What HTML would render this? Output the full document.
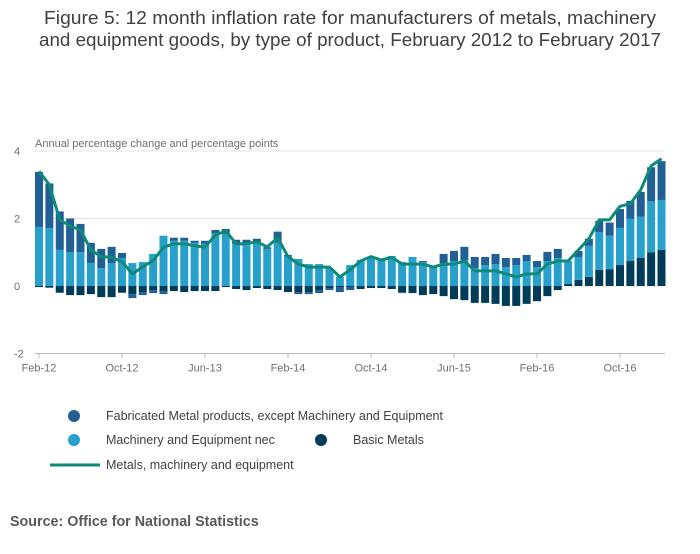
<!DOCTYPE html>
<html><head><meta charset="utf-8"><style>
body{margin:0;background:#fff;font-family:"Liberation Sans",sans-serif;}
</style></head><body>
<svg width="700" height="549" xmlns="http://www.w3.org/2000/svg" style="font-family:'Liberation Sans',sans-serif">
<text x="350" y="24" text-anchor="middle" font-size="18" fill="#414042" textLength="612" lengthAdjust="spacingAndGlyphs">Figure 5: 12 month inflation rate for manufacturers of metals, machinery</text>
<text x="350" y="46" text-anchor="middle" font-size="18" fill="#414042" textLength="622" lengthAdjust="spacingAndGlyphs">and equipment goods, by type of product, February 2012 to February 2017</text>
<text x="35" y="147" font-size="11" fill="#707070">Annual percentage change and percentage points</text>
<g id="grid"></g><g id="bars"></g><g id="line"></g><g id="axes"></g>
<g font-size="12.5" fill="#414042">
<circle cx="74" cy="416" r="6" fill="#206095"/>
<text x="106" y="420">Fabricated Metal products, except Machinery and Equipment</text>
<circle cx="74" cy="440" r="6" fill="#27a0cc"/>
<text x="106" y="444">Machinery and Equipment nec</text>
<circle cx="321" cy="440" r="6" fill="#003c57"/>
<text x="353" y="444">Basic Metals</text>
<line x1="50" y1="465" x2="100" y2="465" stroke="#0f8a76" stroke-width="3"/>
<text x="106" y="469">Metals, machinery and equipment</text>
</g>
<text x="10" y="526" font-size="14.3" font-weight="bold" fill="#595959">Source: Office for National Statistics</text>
</svg>
<script>
const fab=[1.63,1.32,1.14,1.0,0.84,0.6,0.57,0.48,0.15,-0.12,-0.09,-0.09,-0.09,0.09,0.09,0.06,0.09,0.09,0.15,0.12,0.12,0.12,0.05,0.33,0.03,-0.06,-0.06,-0.09,-0.06,-0.15,-0.09,0,0,0,0,-0.03,0,0.03,0,0.36,0.3,0.39,0.33,0.24,0.3,0.27,0.21,0.18,0.18,0.27,0.27,0,0.18,0.21,0.33,0.39,0.56,0.53,0.74,1.01,1.15];
const mach=[1.75,1.72,1.07,1.0,1.0,0.68,0.53,0.68,0.83,0.68,0.71,0.95,1.49,1.34,1.34,1.28,1.25,1.57,1.54,1.25,1.25,1.28,1.1,1.28,0.89,0.8,0.65,0.65,0.53,0.27,0.62,0.77,0.83,0.77,0.89,0.71,0.86,0.71,0.56,0.59,0.74,0.77,0.53,0.62,0.65,0.56,0.62,0.74,0.56,0.74,0.83,0.68,0.68,0.92,1.12,0.99,1.1,1.25,1.22,1.51,1.48];
const basic=[-0.03,-0.05,-0.2,-0.27,-0.27,-0.24,-0.33,-0.33,-0.2,-0.24,-0.18,-0.12,-0.15,-0.15,-0.18,-0.15,-0.15,-0.15,-0.03,-0.09,-0.12,-0.06,-0.09,-0.12,-0.18,-0.18,-0.18,-0.12,-0.06,-0.03,-0.03,-0.09,-0.06,-0.06,-0.09,-0.18,-0.21,-0.27,-0.24,-0.3,-0.39,-0.42,-0.5,-0.5,-0.53,-0.59,-0.59,-0.53,-0.45,-0.3,-0.12,0.06,0.18,0.27,0.48,0.5,0.62,0.74,0.83,1.0,1.07];
const total=[3.4,3.0,1.96,1.78,1.66,1.07,0.87,0.85,0.72,0.36,0.57,0.75,1.15,1.25,1.25,1.19,1.15,1.51,1.63,1.25,1.25,1.31,1.16,1.43,0.87,0.65,0.56,0.56,0.56,0.27,0.48,0.74,0.87,0.77,0.85,0.65,0.65,0.65,0.56,0.65,0.65,0.74,0.45,0.45,0.45,0.36,0.27,0.36,0.36,0.65,0.74,0.74,1.07,1.4,1.96,1.96,2.36,2.44,2.85,3.56,3.77];
const yTicks=[4,2,0,-2];
const xTickLabels=["Feb-12","Oct-12","Jun-13","Feb-14","Oct-14","Jun-15","Feb-16","Oct-16"];
const NS="http://www.w3.org/2000/svg";
const x=i=>39+i*10.375, y=v=>286-v*33.75, bw=8;
function mk(t,a,p){const e=document.createElementNS(NS,t);for(const k in a)e.setAttribute(k,a[k]);p.appendChild(e);return e;}
const G=document.getElementById('grid'),B=document.getElementById('bars'),L=document.getElementById('line'),A=document.getElementById('axes');
yTicks.forEach(v=>{
 if(v>-2){const g=mk('line',{x1:35,x2:665,y1:y(v),y2:y(v),stroke:'#e6e6e6'},G);
 
 }
 const t=mk('text',{x:14,y:y(v)+4,'font-size':11,fill:'#707070'},A);t.textContent=v;
 
 
});
const ax=mk('line',{x1:35,x2:665,y1:y(-2),y2:y(-2),stroke:'#bbb'},A);


xTickLabels.forEach((lab,k)=>{const xx=x(k*8);
 mk('line',{x1:xx,x2:xx,y1:y(-2),y2:y(-2)+5,stroke:'#bbb'},A);
 const t=mk('text',{x:xx,y:y(-2)+18,'font-size':11,fill:'#707070','text-anchor':'middle'},A);t.textContent=lab;
 
 
});
function seg(i,a,b,c,name){const top=Math.max(a,b),bot=Math.min(a,b);if(top-bot<=0)return;
 const r=mk('rect',{x:x(i)-bw/2,y:y(top),width:bw,height:y(bot)-y(top),fill:c},B);
 
 }
for(let i=0;i<total.length;i++){
 let pos=0,neg=0;
 [[basic[i],'#003c57','bar-basic-metals'],[mach[i],'#27a0cc','bar-machinery'],[fab[i],'#206095','bar-fabricated']].forEach(([v,c,n])=>{
  if(v>=0){seg(i,pos,pos+v,c,n);pos+=v;}else{seg(i,neg,neg+v,c,n);neg+=v;}
 });
}
const pl=mk('polyline',{points:total.map((v,i)=>x(i)+','+y(v)).join(' '),fill:'none',stroke:'#0f8a76','stroke-width':3,'stroke-linejoin':'round'},L);


</script>
</body></html>
